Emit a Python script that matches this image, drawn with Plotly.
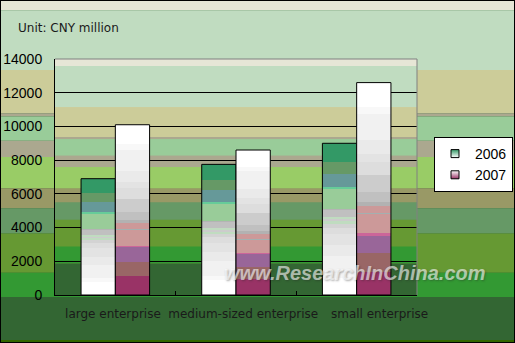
import plotly.graph_objects as go

# ---- data ---------------------------------------------------------------
categories = ["large enterprise", "medium-sized enterprise", "small enterprise"]
years = ["2006", "2007"]
values_2006 = [6900, 7750, 9000]
values_2007 = [10100, 8600, 12600]
y_ticks = [0, 2000, 4000, 6000, 8000, 10000, 12000, 14000]

# ---- canvas geometry ----------------------------------------------------
W, H = 515, 343
ML, MR, MT, MB = 55, 98, 59, 48
PW, PH = W - ML - MR, H - MT - MB


def px_x(px):
    return (px - ML) / PW


def px_y(py):
    return (H - MB - py) / PH


# banded background, listed as (start fraction from top, colour)
bg_bands = [
    (0.000, "#e6e6d6"),
    (0.030, "#c0dcc0"),
    (0.204, "#cccc99"),
    (0.330, "#aba88f"),
    (0.340, "#99cc99"),
    (0.410, "#aba88f"),
    (0.458, "#99cc66"),
    (0.549, "#999966"),
    (0.607, "#669966"),
    (0.681, "#669933"),
    (0.795, "#339933"),
    (0.866, "#336633"),
]

# stepped fills of the bars, listed as (start fraction from bottom, colour)
fill_2006 = [
    (0.000, "#ffffff"), (0.114, "#f8f8f8"), (0.143, "#f1f1f1"),
    (0.260, "#eaeaea"), (0.330, "#e3e3e3"), (0.400, "#dddddd"),
    (0.443, "#d3d3d3"), (0.470, "#c0dcc0"), (0.486, "#cccccc"),
    (0.500, "#c0dcc0"), (0.514, "#c0c0c0"), (0.560, "#b4b4b4"),
    (0.570, "#99cc99"), (0.700, "#66cc99"), (0.714, "#669999"),
    (0.800, "#669966"), (0.877, "#339966"),
]
fill_2007 = [
    (0.000, "#993366"), (0.110, "#996666"), (0.196, "#996699"),
    (0.280, "#cc6699"), (0.290, "#cc9999"), (0.380, "#a3b0b0"),
    (0.386, "#cc9999"), (0.420, "#b2b2b2"), (0.440, "#c0c0c0"),
    (0.486, "#cccccc"), (0.564, "#dddddd"), (0.627, "#e3e3e3"),
    (0.666, "#eaeaea"), (0.730, "#f1f1f1"), (0.854, "#f8f8f8"),
    (0.886, "#ffffff"),
]


def stepped_scale(bands):
    scale = []
    for k, (start, color) in enumerate(bands):
        end = bands[k + 1][0] if k + 1 < len(bands) else 1.0
        scale.append([start, color])
        scale.append([end, color])
    return scale


series = [
    ("2006", values_2006, fill_2006, -1),
    ("2007", values_2007, fill_2007, 0),
]
bar_w = 0.284

fig = go.Figure()

for name, vals, bands, side in series:
    scale = stepped_scale(bands)
    for i, v in enumerate(vals):
        x0 = i + side * bar_w
        x1 = x0 + bar_w
        fig.add_trace(go.Scatter(
            x=[x0, x0, x1, x1, x0],
            y=[0, v, v, 0, 0],
            mode="lines",
            fill="toself",
            fillgradient=dict(type="vertical", colorscale=scale),
            line=dict(color="black", width=1),
            name=name,
            legendgroup=name,
            showlegend=False,
            hoveron="fills",
            text=f"{categories[i]}<br>{name}: {v}",
            hoverinfo="text",
        ))

# legend entries
legend_icons = {"2006": ("#339966", "#ffffff"), "2007": ("#ffffff", "#993366")}
for name in years:
    top_c, bottom_c = legend_icons[name]
    fig.add_trace(go.Scatter(
        x=[None], y=[None], mode="markers", name=name, legendgroup=name,
        marker=dict(symbol="square", size=8, color=top_c,
                    gradient=dict(type="vertical", color=bottom_c),
                    line=dict(color="black", width=1)),
    ))

shapes = []
# whole-canvas bands
fx0, fx1 = px_x(0), px_x(W)
for k, (start, color) in enumerate(bg_bands):
    end = bg_bands[k + 1][0] if k + 1 < len(bg_bands) else 1.0
    shapes.append(dict(type="rect", xref="paper", yref="paper", layer="below",
                       x0=fx0, x1=fx1, y0=px_y(end * H), y1=px_y(start * H),
                       fillcolor=color, line=dict(width=0)))
shapes.append(dict(type="rect", xref="paper", yref="paper", layer="below",
                   x0=fx0, x1=fx1, y0=px_y(H), y1=px_y(H - 3),
                   fillcolor="#336600", line=dict(width=0)))
# plot-area bands
for k, (start, color) in enumerate(bg_bands):
    end = bg_bands[k + 1][0] if k + 1 < len(bg_bands) else 1.0
    shapes.append(dict(type="rect", xref="paper", yref="paper", layer="below",
                       x0=0, x1=1, y0=1 - end, y1=1 - start,
                       fillcolor=color, line=dict(width=0)))
# grey frame on top and right of the plot area
shapes.append(dict(type="path", xref="paper", yref="paper", layer="above",
                   path="M0,1 L1,1 L1,0", line=dict(color="#808080", width=1)))
# outer border
shapes.append(dict(type="rect", xref="paper", yref="paper", layer="above",
                   x0=fx0, x1=fx1, y0=px_y(H), y1=px_y(0),
                   line=dict(color="black", width=2), fillcolor="rgba(0,0,0,0)"))

label_nudge = [-0.02, 0.06, 0.19]

fig.update_layout(
    width=W, height=H,
    margin=dict(l=ML, r=MR, t=MT, b=MB, pad=0, autoexpand=False),
    paper_bgcolor="#336633",
    plot_bgcolor="rgba(0,0,0,0)",
    shapes=shapes,
    showlegend=True,
    legend=dict(
        x=px_x(434), y=px_y(137), xanchor="left", yanchor="top",
        bgcolor="white", bordercolor="black", borderwidth=1,
        font=dict(family="Liberation Sans", size=14, color="black"),
        tracegroupgap=0, itemwidth=30,
    ),
    xaxis=dict(
        range=[-0.5, 2.5], showgrid=False, zeroline=False,
        tickmode="array", tickvals=[i + d for i, d in enumerate(label_nudge)],
        ticktext=categories, ticks="", tickangle=0, automargin=False,
        tickfont=dict(family="DejaVu Sans", size=12, color="#1a1a1a"),
        ticklabelstandoff=8,
        showline=True, linecolor="black", linewidth=1,
        minor=dict(tickmode="array", tickvals=[0.5, 1.5], ticks="inside",
                   ticklen=4, tickcolor="black", showgrid=False),
        fixedrange=True,
    ),
    yaxis=dict(
        range=[0, 14000], tickmode="array", tickvals=y_ticks,
        ticktext=[str(t) for t in y_ticks], automargin=False,
        showgrid=True, gridcolor="black", gridwidth=1, zeroline=False,
        ticks="inside", ticklen=4, tickcolor="black",
        tickfont=dict(family="Liberation Sans", size=14, color="black"),
        ticklabelstandoff=9,
        showline=True, linecolor="black", linewidth=1,
        fixedrange=True,
    ),
    annotations=[
        dict(text="Unit: CNY million", xref="paper", yref="paper",
             x=px_x(16), y=px_y(28), xanchor="left", yanchor="middle",
             showarrow=False,
             font=dict(family="DejaVu Sans", size=12, color="#1a1a1a")),
        dict(text="www.ResearchInChina.com", xref="paper", yref="paper",
             x=px_x(355), y=px_y(273), xanchor="center", yanchor="middle",
             showarrow=False,
             font=dict(family="Liberation Sans", size=20, weight="bold",
                       style="italic", color="rgba(255,255,255,0.6)",
                       shadow="1px 1px 2px rgba(40,40,40,0.6)")),
    ],
)

fig.write_html("out.html")
